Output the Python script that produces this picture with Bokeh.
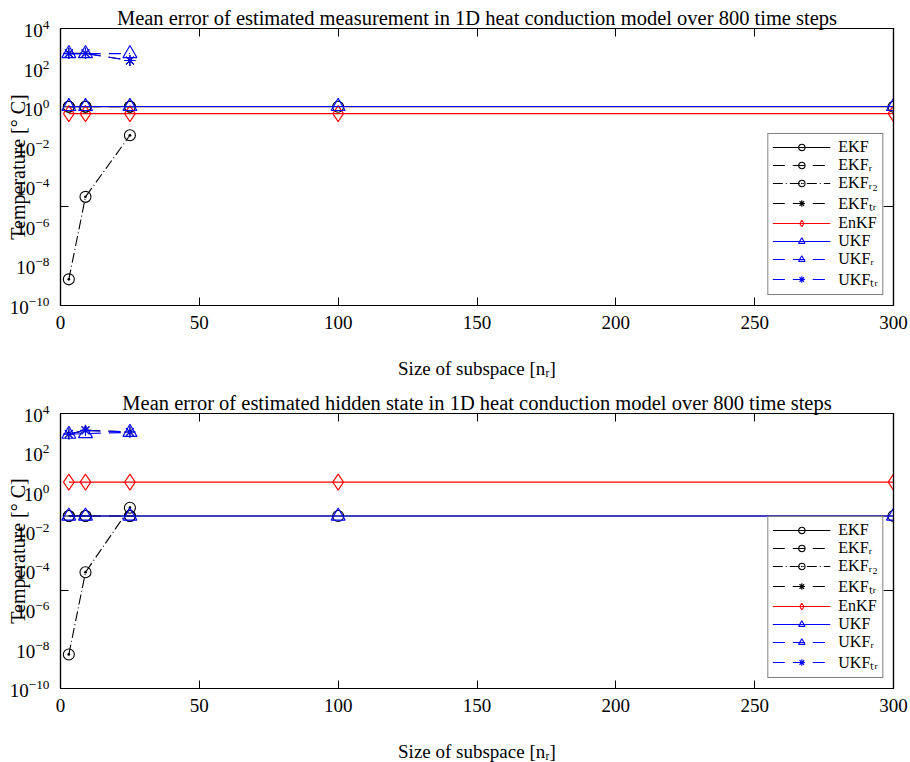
from bokeh.plotting import figure
from bokeh.models import FixedTicker, LogAxis, LinearAxis, Legend, LegendItem
from bokeh.layouts import column
from bokeh.embed import file_html
from bokeh.resources import INLINE

FONT = "Liberation Serif"

# ---------------- data ----------------
nr_all = [3, 9, 25, 100, 300]
nr_red = [3, 9, 25]

x_ticks = [0, 50, 100, 150, 200, 250, 300]
x_top_ticks = [50, 100, 150, 200, 250]
y_ticks = [1e-10, 1e-8, 1e-6, 1e-4, 1e-2, 1e0, 1e2, 1e4]
y_minor = [1e-5]

# top panel: estimated measurement
meas_ekf = [1.1, 1.1, 1.1, 1.1, 1.1]
meas_ekf_r = [1.1, 1.1, 1.1]
meas_ekf_r2 = [2.1e-9, 3.1e-5, 0.04]
meas_ekf_tr = [560, 560, 240]
meas_enkf = [0.5, 0.5, 0.5, 0.5, 0.5]
meas_ukf = [1.15, 1.15, 1.15, 1.15, 1.15]
meas_ukf_r = [540, 540, 540]
meas_ukf_tr = [540, 540, 240]

# bottom panel: hidden state
state_ekf = [0.06, 0.06, 0.06, 0.06, 0.06]
state_ekf_r = [0.06, 0.06, 0.06]
state_ekf_r2 = [5.4e-9, 8.3e-5, 0.16]
state_ekf_tr = [900, 1400, 1150]
state_enkf = [3.2, 3.2, 3.2, 3.2, 3.2]
state_ukf = [0.06, 0.06, 0.06, 0.06, 0.06]
state_ukf_r = [880, 950, 1100]
state_ukf_tr = [900, 1350, 1150]

labels = ["EKF", "EKFᵣ", "EKFᵣ₂", "EKFₜᵣ", "EnKF", "UKF", "UKFᵣ", "UKFₜᵣ"]

# styles: (color, dash, markers)
styles = [
    ("black", "solid", [("circle", 11)]),
    ("black", "12 8", [("circle", 11), ("dash", 11)]),
    ("black", "10 3 1 3", [("circle_dot", 11)]),
    ("black", "12 8", [("asterisk", 11)]),
    ("red", "solid", [("diamond", 16)]),
    ("blue", "solid", [("triangle", 14)]),
    ("blue", "12 8", [("triangle", 14)]),
    ("blue", "12 8", [("asterisk", 11)]),
]


def make_fig(title, series, frame_h, top, bottom):
    p = figure(
        width=910,
        frame_width=833, frame_height=frame_h,
        x_range=(0, 300), y_range=(1e-10, 1e4),
        y_axis_type="log",
        output_backend="svg", toolbar_location=None,
        min_border_left=60, min_border_right=17,
        min_border_top=top, min_border_bottom=bottom,
        background_fill_color="white", border_fill_color="white",
    )
    p.grid.visible = False
    p.outline_line_color = "black"
    p.outline_line_width = 1.2

    p.title.text = title
    p.title.text_font = FONT
    p.title.text_font_size = "20.5px"
    p.title.text_font_style = "normal"
    p.title.text_color = "black"
    p.title.align = "center"
    p.title.standoff = 0

    xa = p.xaxis[0]
    xa.ticker = FixedTicker(ticks=x_ticks)
    xa.major_tick_in = 8
    xa.major_tick_out = 0
    xa.minor_tick_line_color = None
    xa.major_label_standoff = 10
    xa.major_label_text_font = FONT
    xa.major_label_text_font_size = "19px"
    xa.major_label_text_color = "black"
    xa.axis_label = "Size of subspace [nᵣ]"
    xa.axis_label_text_font = FONT
    xa.axis_label_text_font_size = "19px"
    xa.axis_label_text_font_style = "normal"
    xa.axis_label_text_color = "black"
    xa.axis_label_standoff = 26
    xa.axis_line_width = 1.2
    xa.axis_line_color = "black"
    xa.major_tick_line_color = "black"

    ya = p.yaxis[0]
    ya.ticker = FixedTicker(ticks=y_ticks, minor_ticks=y_minor)
    ya.major_tick_line_color = None
    ya.minor_tick_in = 8
    ya.minor_tick_out = 0
    ya.minor_tick_line_color = "black"
    ya.major_label_standoff = 5
    ya.major_label_text_font = FONT
    ya.major_label_text_font_size = "19px"
    ya.major_label_text_color = "black"
    ya.axis_label = "Temperature [° C]"
    ya.axis_label_text_font = FONT
    ya.axis_label_text_font_size = "20px"
    ya.axis_label_text_font_style = "normal"
    ya.axis_label_text_color = "black"
    ya.axis_label_standoff = -22
    ya.axis_line_width = 1.2
    ya.axis_line_color = "black"

    top_ax = LinearAxis(ticker=FixedTicker(ticks=[], minor_ticks=x_top_ticks),
                        major_tick_line_color=None,
                        minor_tick_in=8, minor_tick_out=0,
                        minor_tick_line_color="black",
                        major_label_standoff=0, axis_line_width=1.2,
                        axis_line_color="black")
    p.add_layout(top_ax, "above")
    right_ax = LogAxis(ticker=FixedTicker(ticks=[], minor_ticks=y_minor),
                       major_tick_line_color=None,
                       minor_tick_in=10, minor_tick_out=0,
                       minor_tick_line_color="black",
                       major_label_standoff=0, axis_line_width=1.2,
                       axis_line_color="black")
    p.add_layout(right_ax, "right")

    items = []
    for lab, (xs, ys), (color, dash, markers) in zip(labels, series, styles):
        rs = [p.line(xs, ys, line_color=color, line_width=1.1, line_dash=dash)]
        for mk, sz in markers:
            rs.append(p.scatter(xs, ys, marker=mk, size=sz, line_color=color,
                                fill_alpha=0, line_width=1.1))
        items.append(LegendItem(label=lab, renderers=rs))

    leg = Legend(items=items, location="bottom_right",
                 label_text_font=FONT, label_text_font_size="16px",
                 label_text_color="black",
                 glyph_width=58, glyph_height=16, label_height=16,
                 label_standoff=8, spacing=0, padding=4, margin=10,
                 border_line_color="black", border_line_width=1.1,
                 background_fill_color="white", background_fill_alpha=1.0)
    p.add_layout(leg, "center")
    return p


top_series = [
    (nr_all, meas_ekf), (nr_red, meas_ekf_r), (nr_red, meas_ekf_r2), (nr_red, meas_ekf_tr),
    (nr_all, meas_enkf), (nr_all, meas_ukf), (nr_red, meas_ukf_r), (nr_red, meas_ukf_tr),
]
bot_series = [
    (nr_all, state_ekf), (nr_red, state_ekf_r), (nr_red, state_ekf_r2), (nr_red, state_ekf_tr),
    (nr_all, state_enkf), (nr_all, state_ukf), (nr_red, state_ukf_r), (nr_red, state_ukf_tr),
]

p1 = make_fig("Mean error of estimated measurement in 1D heat conduction model over 800 time steps",
              top_series, 277, 28, 76)
p2 = make_fig("Mean error of estimated hidden state in 1D heat conduction model over 800 time steps",
              bot_series, 275, 32, 74)

layout = column(p1, p2, spacing=0)
open("out.html", "w").write(file_html(layout, INLINE))
